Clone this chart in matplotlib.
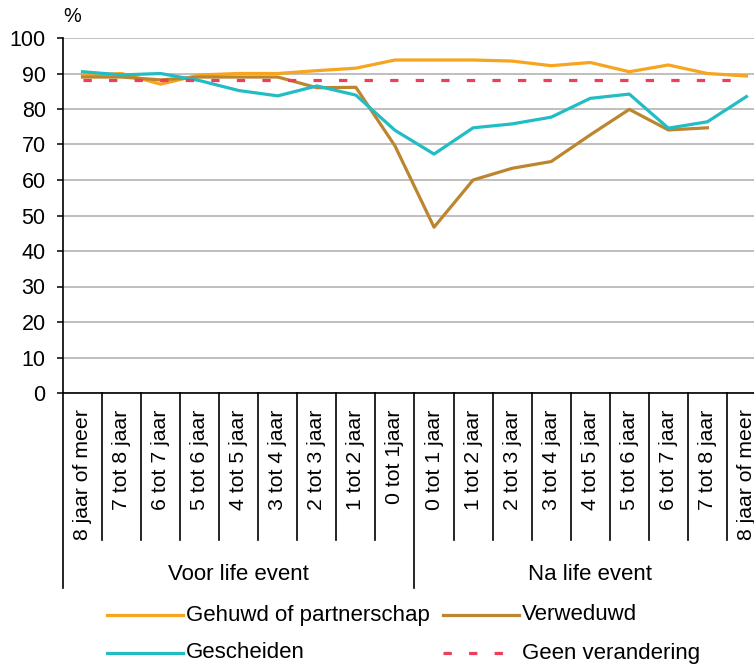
import numpy as np
import matplotlib
matplotlib.use('Agg')
import matplotlib.pyplot as plt
from matplotlib.lines import Line2D

plt.rcParams['font.family'] = ['Liberation Sans', 'DejaVu Sans']

# categories (voor / na life event)
voor_labels = ['8 jaar of meer', '7 tot 8 jaar', '6 tot 7 jaar', '5 tot 6 jaar',
               '4 tot 5 jaar', '3 tot 4 jaar', '2 tot 3 jaar', '1 tot 2 jaar',
               '0 tot 1jaar']
na_labels = ['0 tot 1 jaar', '1 tot 2 jaar', '2 tot 3 jaar', '3 tot 4 jaar',
             '4 tot 5 jaar', '5 tot 6 jaar', '6 tot 7 jaar', '7 tot 8 jaar',
             '8 jaar of meer']
groups = ['Voor life event', 'Na life event']

# percentages per category
gehuwd = [89.5, 90.0, 87.0, 89.6, 90.0, 90.0, 90.8, 91.5, 93.8,
          93.8, 93.8, 93.5, 92.2, 93.1, 90.5, 92.4, 90.0, 89.3]
verweduwd = [89.0, 89.0, 88.2, 89.0, 89.0, 89.0, 86.0, 86.1, 69.6,
             46.7, 60.0, 63.3, 65.2, 72.7, 79.9, 74.1, 74.7, np.nan]
gescheiden = [90.5, 89.6, 90.0, 88.0, 85.2, 83.7, 86.5, 83.9, 74.0,
              67.3, 74.7, 75.8, 77.7, 83.0, 84.2, 74.6, 76.4, 83.5]
geen = [88.3] * 18

series_names = ['Gehuwd of partnerschap', 'Verweduwd', 'Gescheiden', 'Geen verandering']
colors = ['#F7A41E', '#BC8630', '#22BCC4', '#EE3E5A']

labels = voor_labels + na_labels
n = len(labels)
x = np.arange(n) + 0.5

fig = plt.figure(figsize=(7.54, 6.67), dpi=100)
W, H = 754, 667
ax = fig.add_axes([63 / W, (H - 393) / H, 703 / W, 355 / H])

fs = 15.3   # rotated category labels
fs_h = 16   # horizontal texts
lw = 2.3
ax.plot(x, gehuwd, color=colors[0], lw=lw, zorder=3)
ax.plot(x, verweduwd, color=colors[1], lw=lw, zorder=3)
ax.plot(x, gescheiden, color=colors[2], lw=lw, zorder=3)
ax.plot(x, geen, color=colors[3], lw=lw, dashes=(2.6, 5.4), zorder=4)

ax.set_xlim(0, n)
ax.set_ylim(0, 100)
ax.set_yticks(np.arange(0, 101, 10))
ax.yaxis.grid(True, color='#B4B4B4', lw=1.2)
ax.set_axisbelow(True)
ax.tick_params(axis='y', labelsize=15.5, length=4.5, width=1.1, pad=8, direction='out')
ax.set_xticks([])
for s in ['top', 'right']:
    ax.spines[s].set_visible(False)
ax.spines['left'].set_linewidth(1.2)
ax.spines['bottom'].set_linewidth(1.2)

# category separators and labels below the axis
tr = ax.get_xaxis_transform()
for k in range(n + 1):
    bottom = -0.549 if k in (0, len(voor_labels)) else -0.414
    ax.plot([k, k], [0, bottom], color='black', lw=1.2, transform=tr, clip_on=False)
for xi, lab in zip(x, labels):
    ax.text(xi, -0.046, lab, rotation=90, ha='center', va='top', fontsize=fs,
            transform=tr)
ax.text(len(voor_labels) / 2, -0.51, groups[0], ha='center', va='center', fontsize=fs_h, transform=tr)
ax.text(len(voor_labels) + len(na_labels) / 2, -0.51, groups[1], ha='center', va='center',
        fontsize=fs_h, transform=tr)

fig.text(63 / W, 1 - 17 / H, '%', fontsize=fs - 1, ha='left', va='center')

# legend
leg_pos = [(107, 615), (443, 615), (107, 653), (443, 653)]
for (px, py), name, c, ls in zip(leg_pos, series_names, colors, ['-', '-', '-', '--']):
    line = Line2D([px / W, (px + 76) / W], [1 - py / H, 1 - py / H], color=c, lw=lw,
                  transform=fig.transFigure)
    if ls == '--':
        line.set_dashes((2.6, 5.4))
    fig.add_artist(line)
    fig.text((px + 79) / W, 1 - py / H, name, fontsize=fs_h, ha='left', va='center')

fig.savefig('out.png', dpi=100)
